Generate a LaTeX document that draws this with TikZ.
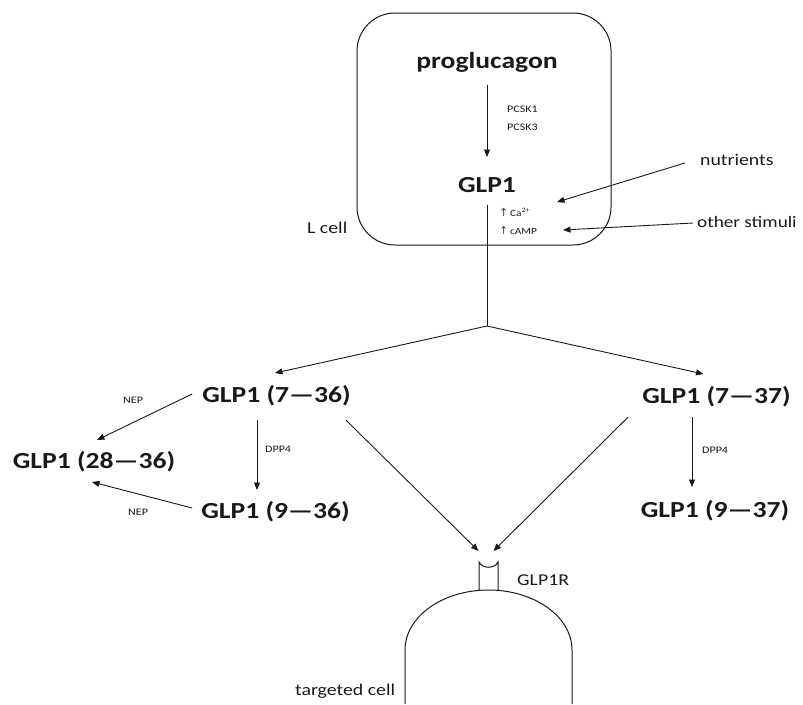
\documentclass[tikz,border=0pt]{standalone}
\usepackage{fontspec}
\setmainfont{Carlito}[FakeStretch=1.2]
\newfontfamily\arrowfont{DejaVu Sans}
\usetikzlibrary{arrows.meta}
\definecolor{ink}{RGB}{25,25,25}
\definecolor{upc}{RGB}{95,45,90}
\begin{document}
\begin{tikzpicture}[x=1pt,y=-1pt,
  big/.style={font=\bfseries\fontsize{23}{26}\selectfont, inner sep=0pt, text=ink},
  lab/.style={font=\fontsize{16.5}{19}\selectfont, inner sep=0pt, text=ink},
  tiny/.style={font=\fontsize{10}{12}\selectfont, inner sep=0pt, text=ink},
  sm/.style={font=\fontsize{9.5}{11}\selectfont, inner sep=0pt, text=ink},
  arr/.style={draw=ink, line width=0.9pt, -{Triangle[length=7.5pt,width=6pt]}},
  ln/.style={draw=ink, line width=0.9pt},
  cellline/.style={draw=ink, line width=1pt}]
\useasboundingbox (0,0) rectangle (803,704);
% L cell box
\node[cellline, draw, rounded corners=38pt, minimum width=254pt, minimum height=232pt, inner sep=0pt] (lbox) at (484,129) {};
% texts
\node[big, anchor=base] (prog) at (487,68) {proglucagon};
\node[big, anchor=base] (glp) at (487,192) {GLP1};
\node[tiny, anchor=base west] (pc1) at (507,112) {PCSK1};
\node[tiny, anchor=base west] (pc3) at (507,130) {PCSK3};
\node[sm, anchor=base west] (ca) at (499,216) {{\arrowfont\color{upc}\fontsize{11}{12}\selectfont ↑}\,Ca\textsuperscript{2+}};
\node[sm, anchor=base west] (camp) at (499,234) {{\arrowfont\color{upc}\fontsize{11}{12}\selectfont ↑}\,cAMP};
\node[lab, anchor=base west] (nut) at (700,165) {nutrients};
\node[lab, anchor=base west, font=\fontsize{16}{19}\selectfont] (oth) at (697,227) {other stimuli};
\node[lab, anchor=base west] (lcell) at (307,233) {L cell};
\node[big, anchor=base] (g736) at (276.5,402) {GLP1 (7—36)};
\node[big, anchor=base] (g737) at (716.5,403) {GLP1 (7—37)};
\node[big, anchor=base] (g2836) at (94,468) {GLP1 (28—36)};
\node[big, anchor=base] (g936) at (275.5,518) {GLP1 (9—36)};
\node[big, anchor=base] (g937) at (715,517) {GLP1 (9—37)};
\node[tiny, anchor=base west] (nep1) at (123,403) {NEP};
\node[tiny, anchor=base west] (nep2) at (128,515) {NEP};
\node[tiny, anchor=base west] (dpl) at (265,452) {DPP4};
\node[tiny, anchor=base west] (dpr) at (702,453) {DPP4};
\node[lab, anchor=base west] (r) at (517,585) {GLP1R};
\node[lab, anchor=base west] (tc) at (295,695) {targeted cell};
% receptor and targeted cell
\coordinate (rec) at (488.5,562);
\draw[cellline] (479,590) -- (479,562) .. controls (482,569) and (495,569) .. (498,562) -- (498,590);
\draw[cellline] (405,704) -- (405,650) arc[start angle=180, end angle=0, x radius=83.5pt, y radius=60pt] -- (572,704);
% connectors
\draw[arr] ([yshift=-17]prog.base) -- ([yshift=35]glp.base);
\coordinate (split) at (487,326);
\draw[ln] ([yshift=-13]glp.base) -- (split);
\draw[arr] (split) -- ([xshift=-1.5,yshift=29]g736.base);
\draw[arr] (split) -- ([xshift=-13,yshift=29]g737.base);
\draw[arr] ([xshift=-15,yshift=2]nut.base west) -- ([xshift=58,yshift=14]ca.base west);
\draw[arr] ([xshift=-4,yshift=4]oth.base west) -- ([xshift=64,yshift=4]camp.base west);
\draw[arr] ([xshift=-10,yshift=8]g736.base west) -- ([xshift=3,yshift=28]g2836.base);
\draw[arr] ([xshift=-9,yshift=10]g936.base west) -- ([xshift=-2,yshift=-14]g2836.base);
\coordinate (d1s) at ([xshift=-19.5,yshift=-18]g736.base);
\coordinate (d1e) at ([yshift=28]g936.base);
\draw[arr] (d1s) -- (d1s |- d1e);
\coordinate (d2s) at ([xshift=-24.5,yshift=-14]g737.base);
\coordinate (d2e) at ([yshift=30]g937.base);
\draw[arr] (d2s) -- (d2s |- d2e);
\draw[arr] ([xshift=-5,yshift=-18]g736.base east) -- ([xshift=-10,yshift=11]rec);
\draw[arr] ([xshift=-14,yshift=-14]g737.base west) -- ([xshift=5,yshift=11]rec);
\end{tikzpicture}
\end{document}
